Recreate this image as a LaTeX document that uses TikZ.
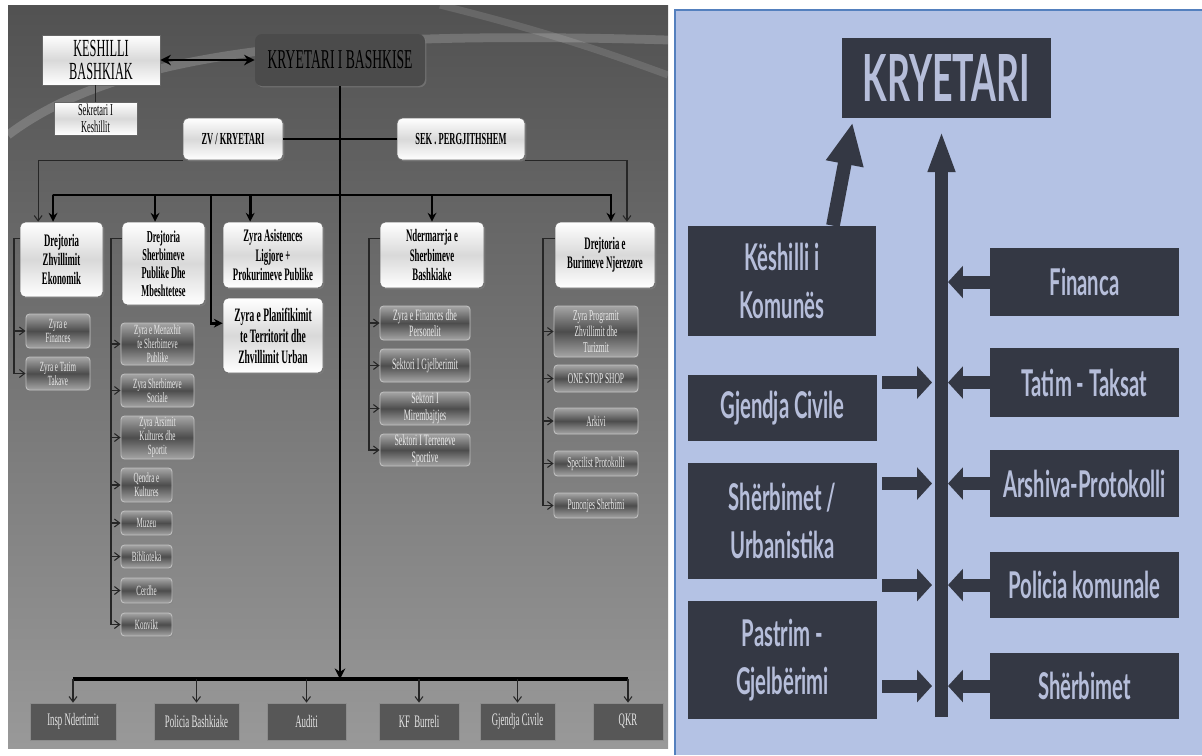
\documentclass[tikz,border=0pt]{standalone}
\usepackage{fontspec}
\newfontfamily\lfont[FakeStretch=0.5]{Liberation Serif}
\newfontfamily\rfont[FakeStretch=0.55]{Lato}
\usepackage{tikz}
\usetikzlibrary{arrows.meta,positioning,calc,shadows}
\definecolor{boxdark}{RGB}{75,75,75}
\definecolor{rbg}{RGB}{180,194,228}
\definecolor{rboxfill}{RGB}{52,56,68}
\definecolor{rtext}{RGB}{182,190,218}
\definecolor{rborder}{RGB}{84,128,190}
\tikzset{
  sz/.style 2 args={minimum width={#1*0.02cm}, minimum height={#2*0.02cm}},
  whitebox/.style={rectangle, rounded corners=3pt, draw=black!60, line width=0.4pt,
    top color=white, bottom color=white, middle color=black!15, inner sep=0pt, align=center,
    font=\lfont\bfseries\fontsize{10}{11}\selectfont,
    drop shadow={opacity=0.6, shadow xshift=0.8pt, shadow yshift=-0.8pt}},
  subbox/.style={rectangle, rounded corners=2pt, draw=white!75!black, line width=0.5pt,
    top color=black!35, bottom color=black!35, middle color=black!70, text=white!92!black,
    inner sep=0pt, align=center, font=\lfont\fontsize{8}{8}\selectfont,
    drop shadow={opacity=0.5, shadow xshift=0.6pt, shadow yshift=-0.6pt}},
  basebox/.style={rectangle, fill=black!66, draw=black!45, inner sep=0pt,
    text=white!90!black, font=\lfont\fontsize{10}{11}\selectfont},
  rbox/.style={rectangle, fill=rboxfill, inner sep=0pt, align=center, text=rtext,
    font=\rfont\bfseries\fontsize{21}{27}\selectfont},
  busline/.style={line width=1.6pt, black},
  busarrow/.style={busline, -{Stealth[length=5pt,width=5pt]}},
  thinline/.style={line width=0.6pt, black!85},
  thinarrow/.style={thinline, -{Straight Barb[length=3pt,width=4.5pt]}},
  fatarrow/.style={line width=7.4pt, rboxfill, -{Triangle[length=8.5pt,width=18pt]}},
}
\begin{document}
\begin{tikzpicture}[x=0.02cm, y=-0.02cm]
  \useasboundingbox (0,0) rectangle (1202,755);

  %% Backgrounds
  \fill[white] (0,0) rectangle (1202,755);
  \shade[top color=black!68, bottom color=black!40] (8,5) rectangle (668,748);
  \draw[white, opacity=0.18, line width=5pt] (8,135) .. controls (120,50) and (330,30) .. (668,40);
  \draw[white, opacity=0.12, line width=4pt] (440,5) .. controls (540,30) and (600,50) .. (668,75);
  \fill[rbg] (675,10) rectangle (1202,755);
  \draw[rborder, line width=1pt] (675,755) -- (675,10) -- (1202,10);

  %% Top of the left chart
  \node[whitebox, rounded corners=0pt, font=\lfont\fontsize{14}{13}\selectfont, sz={118}{50}] (kesh) at (101,60) {KESHILLI\\BASHKIAK};
  \node[rectangle, rounded corners=4pt, fill=boxdark, sz={170}{52}, inner sep=0pt,
        font=\lfont\fontsize{15.5}{17}\selectfont,
        drop shadow={opacity=0.6, shadow xshift=0.8pt, shadow yshift=-0.8pt}] (kryet) at (340,60) {KRYETARI I BASHKISE};
  \node[whitebox, rounded corners=0pt, font=\lfont\fontsize{9.5}{9.5}\selectfont, sz={83}{33}] (sekr) at (95.5,118.5) {Sekretari I\\Keshillit};
  \node[whitebox, sz={100}{42}, font=\lfont\bfseries\fontsize{9.6}{10}\selectfont] (zv) at (233,139) {ZV / KRYETARI};
  \node[whitebox, sz={128}{42}, font=\lfont\bfseries\fontsize{9.6}{10}\selectfont] (sek) at (461,139) {SEK . PERGJITHSHEM};

  %% Directorates
  \node[whitebox, sz={83}{75}] (dze) at (61.5,259.5) {Drejtoria\\Zhvillimit\\Ekonomik};
  \node[whitebox, sz={83}{83}, font=\lfont\bfseries\fontsize{9.5}{10.2}\selectfont] (dsh) at (163.5,263.5) {Drejtoria\\Sherbimeve\\Publike Dhe\\Mbeshtetese};
  \node[whitebox, sz={100}{66}] (zas) at (273,255) {Zyra Asistences\\Ligjore +\\Prokurimeve Publike};
  \node[whitebox, sz={100}{75}, font=\lfont\bfseries\fontsize{10.8}{12}\selectfont] (zpl) at (273,335.5) {Zyra e Planifikimit\\te Territorit dhe\\Zhvillimit Urban};
  \node[whitebox, sz={104}{66}] (nds) at (432,255) {Ndermarrja e\\Sherbimeve\\Bashkiake};
  \node[whitebox, sz={100}{66}] (dbn) at (605,255) {Drejtoria e\\Burimeve Njerezore};

  %% Offices
  \foreach \n/\y/\h/\t in {zfi/331/34/{Zyra e\\Finances}, zta/373.5/33/{Zyra e Tatim\\Takave}}
    \node[subbox, sz={64}{\h}] (\n) at (58,\y) {\t};
  \foreach \n/\y/\h/\t in {zme/344/42/{Zyra e Menaxhit\\te Sherbimeve\\Publike},
                           zss/390.5/33/{Zyra Sherbimeve\\Sociale},
                           zak/437.5/43/{Zyra Arsimit\\Kultures dhe\\Sportit}}
    \node[subbox, sz={73}{\h}] (\n) at (157.5,\y) {\t};
  \foreach \n/\y/\h/\t in {qkl/485/34/{Qendra e\\Kultures}, muz/523/24/Muzeu,
                           bib/556.5/23/Biblioteka, cer/590.5/25/Cerdhe, kon/624.5/23/Konvikt}
    \node[subbox, sz={51}{\h}] (\n) at (146.5,\y) {\t};
  \foreach \n/\y/\h/\t in {zfp/323/34/{Zyra e Finances dhe\\Personelit},
                           sgj/365.5/33/{Sektori I Gjelberimit},
                           smi/408.5/33/{Sektori I\\Mirembajtjes},
                           stp/450/32/{Sektori I Terreneve\\Sportive}}
    \node[subbox, sz={90}{\h}, font=\lfont\fontsize{9}{9.5}\selectfont] (\n) at (425,\y) {\t};
  \foreach \n/\y/\h/\t in {zpz/331.5/51/{Zyra Programit\\Zhvillimit dhe\\Turizmit},
                           oss/378.5/27/{ONE STOP SHOP}, ark/421/26/Arkivi,
                           spp/463.5/25/{Specilist Protokolli}, psh/505.5/25/{Punonjes Sherbimi}}
    \node[subbox, sz={84}{\h}, font=\lfont\fontsize{8.5}{9}\selectfont] (\n) at (596,\y) {\t};

  %% Bottom row
  \foreach \n/\x/\w/\t in {ins/73/86/{Insp Ndertimit}, pol/196.5/85/{Policia Bashkiake},
                           aud/306.5/79/Auditi, kfb/419/80/{KF\ \ Burreli},
                           gjc/517.5/75/{Gjendja Civile}, qkr/628/70/QKR}
    \node[basebox, sz={\w}{37}] (\n) at (\x,721.5) {\t};

  %% Left connectors
  \draw[line width=1.5pt, {Stealth[length=6pt,width=6pt]}-{Stealth[length=6pt,width=6pt]}] (kesh.east) -- (kryet.west);
  \draw[thinline] (kesh.south -| sekr.north) -- (sekr.north);
  \coordinate (bbar) at (340,679);
  \draw[busline, -{Stealth[length=6pt,width=6pt]}] (kryet.south) -- (bbar);
  \draw[busline] (zv.east) -- (sek.west);
  \coordinate (bus) at (53,195);
  \coordinate (pl) at (211,195);
  \draw[busarrow] (bus) -| ([xshift=-4.8pt]dze.north);
  \draw[busarrow] (bus) -| ([xshift=-4.8pt]dsh.north);
  \draw[busarrow] (bus) -| ([xshift=-13pt]zas.north);
  \draw[busarrow] (bus) -| (nds.north);
  \draw[busarrow] (bus) -| ([xshift=3.4pt]dbn.north);
  \draw[busarrow] (pl) |- ([yshift=7pt]zpl.west);
  \draw[thinarrow] (zv.south west) -| ([xshift=-13.3pt]dze.north);
  \draw[thinarrow] (sek.south east) -| ([xshift=12.5pt]dbn.north);

  \coordinate (c1) at (14,0);
  \coordinate (c2) at (111,0);
  \coordinate (c4) at (369,0);
  \coordinate (c6) at (543,0);
  \foreach \c in {zfi,zta}
    \draw[thinarrow] ([yshift=12.2pt]dze.west) -| (c1 |- \c) -- (\c.west);
  \foreach \c in {zme,zss,zak,qkl,muz,bib,cer,kon}
    \draw[thinarrow] ([yshift=14.5pt]dsh.west) -| (c2 |- \c) -- (\c.west);
  \foreach \c in {zfp,sgj,smi,stp}
    \draw[thinarrow] ([yshift=9.6pt]nds.west) -| (c4 |- \c) -- (\c.west);
  \foreach \c in {zpz,oss,ark,spp,psh}
    \draw[thinarrow] ([yshift=9.6pt]dbn.west) -| (c6 |- \c) -- (\c.west);

  \draw[busline, line width=2.2pt] (ins.north |- bbar) -- (qkr.north |- bbar);
  \foreach \b in {ins,pol,aud,kfb,gjc,qkr}
    \draw[thinarrow] (\b.north |- bbar) -- (\b.north);

  %% Right chart
  \node[rbox, sz={209}{80}, font=\rfont\bfseries\fontsize{37}{40}\selectfont] (rk) at (946.5,78) {KRYETARI};
  \node[rbox, sz={188}{110}] (kk) at (782,281) {Këshilli i\\Komunës};
  \node[rbox, sz={189}{66}] (gj) at (782.5,408) {Gjendja Civile};
  \node[rbox, sz={189}{116}] (su) at (782.5,521) {Shërbimet /\\Urbanistika};
  \node[rbox, sz={189}{118}] (pg) at (782.5,660) {Pastrim -\\Gjelbërimi};
  \node[rbox, sz={189}{68}] (fin) at (1084.5,282) {Financa};
  \node[rbox, sz={189}{69}] (tat) at (1084.5,382.5) {Tatim - Taksat};
  \node[rbox, sz={189}{67}] (ark2) at (1084.5,483.5) {Arshiva-Protokolli};
  \node[rbox, sz={189}{66}] (pk) at (1084.5,585) {Policia komunale};
  \node[rbox, sz={189}{66}] (shr) at (1084.5,686) {Shërbimet};

  \coordinate (rtop) at (941.5,130);
  \coordinate (rbot) at (941.5,717);
  \draw[line width=7.4pt, rboxfill, -{Triangle[length=24pt,width=14pt]}] (rbot) -- (rtop);
  \draw[line width=7.8pt, rboxfill, -{Triangle[length=24pt,width=20pt]}] ([xshift=29pt]kk.north) -- ([xshift=6.2pt,yshift=-2.3pt]rk.south west);

  \coordinate (rR) at (948,0);
  \coordinate (lS) at (882,0);
  \coordinate (lT) at (932,0);
  \foreach \r in {fin,tat,ark2,pk,shr}
    \draw[fatarrow] (\r.west) -- (\r.west -| rR);
  \foreach \r in {tat,ark2,pk,shr}
    \draw[fatarrow] (lS |- \r) -- (lT |- \r);
\end{tikzpicture}
\end{document}
